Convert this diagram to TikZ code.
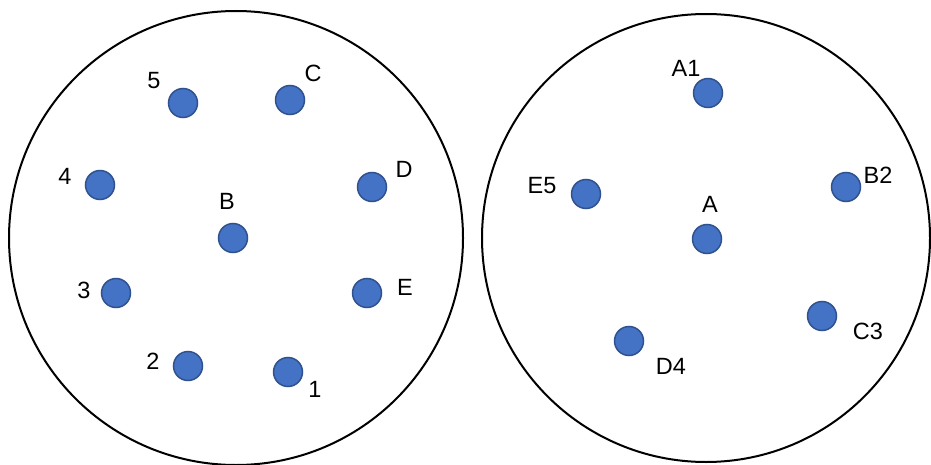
\documentclass[tikz,border=0pt]{standalone}
\usepackage{fontspec}
\setmainfont{Liberation Sans}
\definecolor{dotfill}{HTML}{4472C4}
\definecolor{dotline}{HTML}{2F528F}
\begin{document}
\begin{tikzpicture}[x=1pt,y=-1pt,
  dot/.style={circle,fill=dotfill,draw=dotline,line width=1.5pt,minimum size=29pt,inner sep=0pt},
  lbl/.style={inner sep=0pt,font=\fontsize{23.5}{28}\selectfont},
  ring/.style={draw=black,line width=2pt}]
\useasboundingbox (0,0) rectangle (931,465);
\draw[ring] (236,238) circle[radius=227];
\draw[ring] (706,238) circle[radius=224];
% left circle dots
\node[dot] (d5) at (183,103) {};
\node[dot] (dC) at (290,100) {};
\node[dot] (d4) at (100,185) {};
\node[dot] (dD) at (372,187) {};
\node[dot] (dB) at (233,238) {};
\node[dot] (d3) at (116,293) {};
\node[dot] (dE) at (367,293) {};
\node[dot] (d2) at (188,366) {};
\node[dot] (d1) at (288,372) {};
% left labels
\node[lbl] (l5) at (154,81) {5};
\node[lbl] (lC) at (313,73) {C};
\node[lbl] (l4) at (65,176) {4};
\node[lbl] (lD) at (404,169) {D};
\node[lbl] (lB) at (227,201) {B};
\node[lbl] (l3) at (84,290) {3};
\node[lbl] (lE) at (405,287) {E};
\node[lbl] (l2) at (153,361) {2};
\node[lbl] (l1) at (315,389) {1};
% right circle dots
\node[dot] (rA1) at (708,93) {};
\node[dot] (rE5) at (586,194) {};
\node[dot] (rB2) at (846,187) {};
\node[dot] (rA) at (707,239) {};
\node[dot] (rC3) at (822,316) {};
\node[dot] (rD4) at (629,341) {};
% right labels
\node[lbl] (tA1) at (686,68) {A1};
\node[lbl] (tE5) at (542,186) {E5};
\node[lbl] (tB2) at (878,175) {B2};
\node[lbl] (tA) at (710,204) {A};
\node[lbl] (tC3) at (868,331) {C3};
\node[lbl] (tD4) at (671,366) {D4};
\end{tikzpicture}
\end{document}
